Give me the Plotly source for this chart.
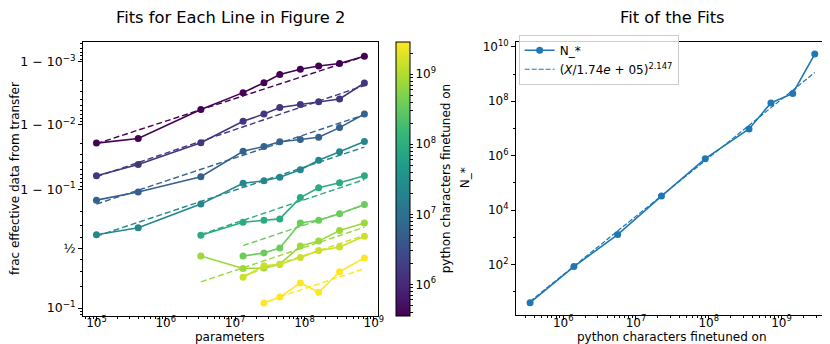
import numpy as np
import plotly.graph_objects as go
from plotly.colors import sample_colorscale

W, H = 830, 344

# model sizes (x of left panel)
params = [1e5, 4.0e5, 3.2e6, 1.3e7, 2.6e7, 4.4e7, 8.7e7, 1.6e8, 3.2e8, 7.3e8]

# python characters finetuned on (one line per size) and fitted N_*
chars = [3.5e5, 1.4e6, 5.6e6, 2.24e7, 8.96e7, 3.58e8, 7.17e8, 1.43e9, 2.87e9]
n_star = [4.0, 85, 1270, 3.3e4, 7.8e5, 9.6e6, 8.7e7, 1.95e8, 5.4e9]
FIT_SCALE = 1.74e5
FIT_EXP = 2.147

# frac effective data from transfer, one list per finetune size
frac_d1 = [0.98022, 0.98326, 0.994213, 0.996891, 0.997842, 0.998411, 0.99869, 0.99884, 0.998937, 0.999186]
frac_d2 = [0.93668, 0.95733, 0.98048, 0.991065, 0.99316, 0.994621, 0.995181, 0.995634, 0.996079, 0.997817]
frac_d3 = [0.8574, 0.8907, 0.93445, 0.97338, 0.97771, 0.98117, 0.98269, 0.98404, 0.98875, 0.99316]
frac_d4 = [0.6256, 0.6833, 0.8384, 0.918, 0.925, 0.9332, 0.9486, 0.96337, 0.97308, 0.98138]
frac_d5 = [0.6218, 0.7259, 0.7403, 0.75, 0.8685, 0.905, 0.9197, 0.9367]
frac_d6 = [0.4325, 0.4598, 0.5055, 0.7213, 0.7403, 0.7844, 0.8365]
frac_d7 = [0.4325, 0.3247, 0.3272, 0.36, 0.5236, 0.5692, 0.6615, 0.7213]
frac_d8 = [0.257, 0.3458, 0.36, 0.4184, 0.4817, 0.5144, 0.6131]
frac_d9 = [0.1179, 0.1426, 0.219, 0.1663, 0.2981, 0.4151]

# dashed fits: first model size index and fraction at both ends
fit_start = [0, 0, 0, 0, 2, 3, 2, 3, 5]
fit_lo = [0.97977, 0.93445, 0.8384, 0.6131, 0.6278, 0.5282, 0.2262, 0.2675, 0.1435]
fit_hi = [0.999186, 0.997607, 0.99297, 0.97714, 0.92797, 0.8337, 0.6878, 0.6202, 0.3225]

fracs = [frac_d1, frac_d2, frac_d3, frac_d4, frac_d5, frac_d6, frac_d7, frac_d8, frac_d9]


def logit(p):
    p = np.asarray(p, dtype=float)
    return np.log10(p / (1 - p))


FONT = "DejaVu Sans"
TICK = 12
cmin, cmax = np.log10(chars[0]), np.log10(chars[-1])
line_colors = sample_colorscale("Viridis", [(np.log10(c) - cmin) / (cmax - cmin) for c in chars])

fig = go.Figure()

for i, (c, fr) in enumerate(zip(chars, fracs)):
    xs = params[len(params) - len(fr):]
    fig.add_trace(go.Scatter(
        x=xs, y=logit(fr), mode="lines+markers",
        line=dict(color=line_colors[i], width=1.6),
        marker=dict(size=7, color=[np.log10(c)] * len(fr), coloraxis="coloraxis"),
        showlegend=False, xaxis="x", yaxis="y",
    ))
    fig.add_trace(go.Scatter(
        x=[params[fit_start[i]], params[-1]], y=logit([fit_lo[i], fit_hi[i]]), mode="lines",
        line=dict(color=line_colors[i], width=1.4, dash="6px,3px"),
        showlegend=False, xaxis="x", yaxis="y",
    ))

fit_label = f"(<i>X</i>/{FIT_SCALE:.2e}".replace("e+", "<i>e</i> + ") + f")<sup>{FIT_EXP}</sup>"
fig.add_trace(go.Scatter(
    x=chars, y=n_star, mode="lines+markers", name="N_*",
    line=dict(color="#1f77b4", width=1.6), marker=dict(size=7, color="#1f77b4"),
    xaxis="x2", yaxis="y2",
))
fig.add_trace(go.Scatter(
    x=chars, y=(np.array(chars) / FIT_SCALE) ** FIT_EXP, mode="lines", name=fit_label,
    line=dict(color="#1f77b4", width=1.2, dash="5px,2px"),
    xaxis="x2", yaxis="y2",
))


def pow_label(d):
    return f"10<sup>{str(d).replace('-', '−')}</sup>"


def log_minor(lo, hi):
    return [k * 10.0 ** d for d in range(lo, hi) for k in range(2, 10)]


axis_common = dict(
    showgrid=False, zeroline=False, showline=True, linecolor="black", linewidth=1,
    mirror=True, ticks="outside", ticklen=4, tickcolor="black",
    tickfont=dict(family=FONT, size=TICK, color="black"),
)

# logit-scale y ticks
y_major = [0.1, 0.5, 0.9, 0.99, 0.999]
y_text = ["10<sup>−1</sup>", "½", "1 − 10<sup>−1</sup>", "1 − 10<sup>−2</sup>", "1 − 10<sup>−3</sup>"]
y_minor = [0.08, 0.09, 0.2, 0.3, 0.4, 0.6, 0.7, 0.8] + \
    [1 - k * 10.0 ** -d for d in (2, 3, 4) for k in range(2, 10)]

cb_major = [6, 7, 8, 9]
cb_minor = [np.log10(v) for v in log_minor(5, 10) if cmin <= np.log10(v) <= cmax]

fig.update_layout(
    width=W, height=H, margin=dict(l=0, r=0, t=0, b=0),
    plot_bgcolor="white", paper_bgcolor="white",
    font=dict(family=FONT, size=TICK, color="black"),
    xaxis=dict(
        axis_common, type="log", range=[4.807, 9.053], domain=[75.7 / W, 372.7 / W],
        tickvals=[1e5, 1e6, 1e7, 1e8, 1e9], ticktext=[pow_label(d) for d in range(5, 10)],
        minor=dict(tickvals=log_minor(4, 10), ticks="outside", ticklen=2, tickcolor="black"),
        ticklabelstandoff=-8, anchor="y",
    ),
    yaxis=dict(
        axis_common, range=[-1.078, 3.325], domain=[36.7 / H, 314 / H],
        tickvals=list(logit(y_major)), ticktext=y_text,
        tickfont=dict(family=FONT, size=12.5, color="black"),
        minor=dict(tickvals=list(logit(y_minor)), ticks="outside", ticklen=2, tickcolor="black"),
        anchor="x",
    ),
    xaxis2=dict(
        axis_common, type="log", range=[5.35, 9.65], domain=[512.3 / W, 827.7 / W],
        tickvals=[1e6, 1e7, 1e8, 1e9], ticktext=[pow_label(d) for d in range(6, 10)],
        minor=dict(tickvals=log_minor(5, 10), ticks="outside", ticklen=2, tickcolor="black"),
        ticklabelstandoff=-8, anchor="y2",
    ),
    yaxis2=dict(
        axis_common, type="log", range=[0.146, 10.19], domain=[37.3 / H, 314 / H],
        tickvals=[1e2, 1e4, 1e6, 1e8, 1e10], ticktext=[pow_label(d) for d in (2, 4, 6, 8, 10)],
        minor=dict(tickvals=[10.0 ** d for d in (1, 3, 5, 7, 9)], ticks="outside", ticklen=2,
                   tickcolor="black"),
        anchor="x2",
    ),
    coloraxis=dict(
        colorscale="Viridis", cmin=cmin, cmax=cmax,
        colorbar=dict(
            x=391.7 / W, xanchor="left", xpad=0, ypad=0,
            y=1 - 169.2 / H, yanchor="middle", len=277 / H, lenmode="fraction",
            thickness=14, outlinewidth=1, outlinecolor="black",
            ticks="outside", ticklen=3, tickcolor="black",
            tickvals=cb_major + cb_minor,
            ticktext=[pow_label(d) for d in cb_major] + [""] * len(cb_minor),
            tickfont=dict(family=FONT, size=TICK, color="black"),
        ),
    ),
    legend=dict(
        x=515 / W, y=1 - 23 / H, xanchor="left", yanchor="top",
        bgcolor="rgba(255,255,255,0.8)", bordercolor="#cccccc", borderwidth=1,
        font=dict(family=FONT, size=TICK, color="black"),
        tracegroupgap=0, itemwidth=30,
    ),
)

notes = [
    ("Fits for Each Line in Figure 2", 224.2, 6, 16.3, 0),
    ("Fit of the Fits", 670, 6, 16.3, 0),
    ("parameters", 224.2, 329, TICK, 0),
    ("python characters finetuned on", 670, 329, TICK, 0),
    ("frac effective data from transfer", 7, 168, TICK, -90),
    ("N_*", 461, 168, TICK, -90),
    ("python characters finetuned on", 442, 168, TICK, -90),
]
for text, px, py, size, ang in notes:
    fig.add_annotation(
        text=text, x=px / W, y=1 - py / H, xref="paper", yref="paper",
        showarrow=False, textangle=ang, xanchor="center", yanchor="middle",
        font=dict(family=FONT, size=size, color="black"),
    )

fig.write_html("out.html")
